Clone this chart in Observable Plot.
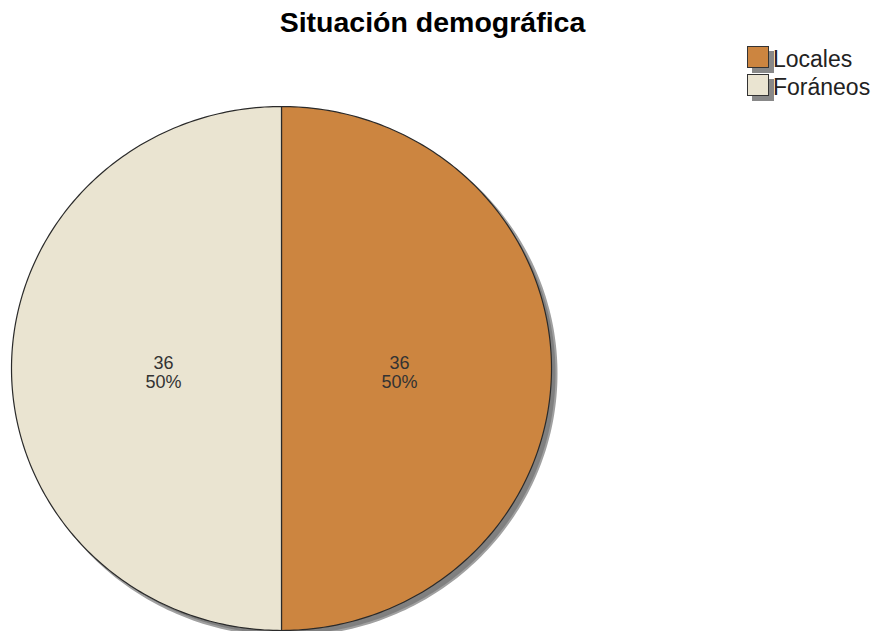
<!DOCTYPE html>
<html><head><meta charset="utf-8">
<script src="https://cdn.jsdelivr.net/npm/d3@7"></script>
<script src="https://cdn.jsdelivr.net/npm/@observablehq/plot@0.6"></script>
<style>
body{margin:0;background:#fff}
#wrap{position:relative;width:876px;height:631px;overflow:hidden;font-family:"Liberation Sans",Arial,sans-serif}
#chart{position:absolute;left:0;top:0}
#title{position:absolute;left:0;width:865px;top:8px;text-align:center;font-weight:bold;font-size:28.5px;line-height:28px;color:#000}
.lg{position:absolute;left:747px;height:22px}
.sw{position:absolute;left:0;top:0;width:20px;height:20px;border:1px solid #333;box-shadow:5px 5px 0 #888}
.lt{position:absolute;left:26px;top:2px;font-size:23px;line-height:22px;color:#222;white-space:nowrap}
</style></head>
<body>
<div id="wrap">
  <div id="chart"></div>
  <div id="title">Situación demográfica</div>
  <div id="legend"></div>
</div>
<script>
const categories = ["Locales", "Foráneos"];
const values = [36, 36];
const colors = ["#CC8540", "#EAE4D1"];

const total = d3.sum(values);
const arcs = d3.pie().sort(null).value(d => d)(values);

const pts = [];
arcs.forEach((a, i) => {
  pts.push({c: categories[i], x: 0, y: 0});
  const n = 200;
  for (let k = 0; k <= n; k++) {
    const t = a.startAngle + (a.endAngle - a.startAngle) * k / n;
    pts.push({c: categories[i], x: Math.sin(t), y: Math.cos(t)});
  }
});
const shadow = d3.range(0, 361).map(k => {
  const t = k * Math.PI / 180;
  return {x: Math.sin(t), y: Math.cos(t)};
});
const labels = arcs.map((a, i) => {
  const m = (a.startAngle + a.endAngle) / 2;
  return {
    x: 0.437 * Math.sin(m), y: 0.437 * Math.cos(m),
    text: values[i] + "\n" + Math.round(values[i] / total * 100) + "%"
  };
});

const chart = Plot.plot({
  width: 876, height: 631, margin: 0,
  style: {background: "transparent", overflow: "visible"},
  x: {domain: [-1, 1], range: [11, 551], axis: null},
  y: {domain: [-1, 1], range: [630, 106], axis: null},
  color: {domain: categories, range: colors},
  marks: [
    Plot.line(shadow, {x: "x", y: "y", fill: "#808080", stroke: "#a0a0a0", strokeWidth: 2, curve: "linear-closed", dx: 5, dy: 5}),
    Plot.line(pts, {x: "x", y: "y", z: "c", fill: "c", stroke: "#2a2a2a", strokeWidth: 1.2, curve: "linear-closed"}),
    Plot.text(labels, {x: "x", y: "y", text: "text", fontSize: 18, lineHeight: 1.07, fill: "#333", fontFamily: "Liberation Sans", dy: 4})
  ]
});
document.getElementById("chart").appendChild(chart);

const legend = document.getElementById("legend");
categories.forEach((c, i) => {
  const d = document.createElement("div");
  d.className = "lg";
  d.style.top = (46 + i * 28) + "px";
  d.innerHTML = `<div class="sw" style="background:${colors[i]}"></div><div class="lt">${c}</div>`;
  legend.appendChild(d);
});
</script>
</body></html>
